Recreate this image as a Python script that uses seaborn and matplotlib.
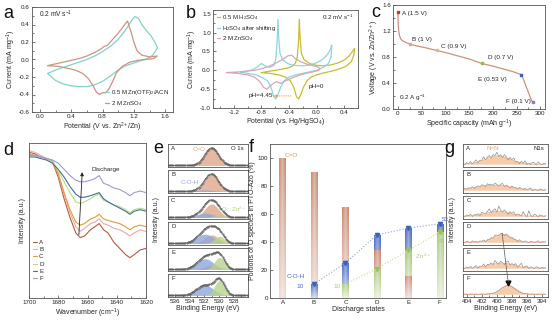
import numpy as np
import matplotlib
matplotlib.use("Agg")
import matplotlib.pyplot as plt
from matplotlib.patches import ConnectionPatch
from matplotlib.colors import to_rgb
from matplotlib.ticker import AutoMinorLocator, FormatStrFormatter
import seaborn as sns

# ---------------- (a) CV, PTO-Azo in two electrolytes: (V vs Zn2+/Zn, mA/mg)
cv_acn = [(0.10, -0.16), (0.20, -0.12), (0.30, -0.09), (0.40, -0.06), (0.50, -0.03),
          (0.60, 0.00), (0.70, 0.04), (0.80, 0.09), (0.90, 0.15), (1.00, 0.23),
          (1.08, 0.32), (1.14, 0.40), (1.19, 0.47), (1.22, 0.49), (1.26, 0.47),
          (1.30, 0.40), (1.36, 0.33), (1.42, 0.27), (1.46, 0.21), (1.49, 0.16),
          (1.50, 0.13), (1.48, 0.10), (1.44, 0.05), (1.40, 0.02), (1.30, -0.01),
          (1.20, -0.04), (1.10, -0.07), (1.00, -0.12), (0.90, -0.19), (0.80, -0.25),
          (0.70, -0.29), (0.60, -0.31), (0.50, -0.31), (0.40, -0.30), (0.30, -0.28),
          (0.20, -0.24), (0.10, -0.16)]
cv_znso4 = [(0.10, -0.07), (0.20, -0.05), (0.30, -0.03), (0.40, -0.01), (0.50, 0.01),
            (0.60, 0.04), (0.70, 0.08), (0.78, 0.12), (0.82, 0.15), (0.86, 0.16),
            (0.92, 0.22), (1.00, 0.30), (1.06, 0.37), (1.10, 0.42), (1.12, 0.44),
            (1.14, 0.38), (1.17, 0.30), (1.20, 0.20), (1.24, 0.10), (1.30, 0.05),
            (1.40, 0.03), (1.50, 0.04), (1.45, 0.01), (1.35, 0.00), (1.25, -0.01),
            (1.15, -0.03), (1.05, -0.08), (0.98, -0.15), (0.93, -0.25), (0.88, -0.34),
            (0.84, -0.38), (0.80, -0.38), (0.76, -0.40), (0.72, -0.37), (0.68, -0.30),
            (0.62, -0.22), (0.55, -0.16), (0.45, -0.12), (0.35, -0.10), (0.25, -0.08),
            (0.10, -0.07)]

# ---------------- (b) CV vs Hg/HgSO4
cv_h2so4 = [(-0.80, -0.06), (-0.70, -0.03), (-0.60, 0.00), (-0.50, 0.03), (-0.42, 0.06),
            (-0.36, 0.10), (-0.31, 0.18), (-0.28, 0.35), (-0.26, 0.80), (-0.25, 1.35),
            (-0.24, 0.90), (-0.22, 0.45), (-0.18, 0.28), (-0.10, 0.18), (0.00, 0.13),
            (0.10, 0.12), (0.20, 0.14), (0.30, 0.19), (0.40, 0.27), (0.47, 0.38),
            (0.52, 0.50), (0.55, 0.58), (0.54, 0.40), (0.50, 0.22), (0.42, 0.10),
            (0.30, 0.02), (0.20, -0.03), (0.10, -0.07), (0.00, -0.12), (-0.08, -0.18),
            (-0.14, -0.28), (-0.19, -0.45), (-0.23, -0.65), (-0.26, -0.76), (-0.29, -0.70),
            (-0.33, -0.45), (-0.38, -0.28), (-0.45, -0.18), (-0.55, -0.12), (-0.68, -0.08),
            (-0.80, -0.06)]
cv_h2so4_shifted = [(-1.10, -0.05), (-1.00, -0.02), (-0.92, 0.02), (-0.85, 0.10), (-0.80, 0.18),
                    (-0.75, 0.12), (-0.68, 0.08), (-0.62, 0.12), (-0.59, 0.30), (-0.57, 0.80),
                    (-0.56, 1.35), (-0.55, 0.90), (-0.53, 0.45), (-0.49, 0.28), (-0.42, 0.18),
                    (-0.33, 0.13), (-0.20, 0.12), (-0.10, 0.14), (0.00, 0.20), (0.08, 0.28),
                    (0.15, 0.40), (0.20, 0.55), (0.22, 0.67), (0.21, 0.35), (0.17, 0.18),
                    (0.10, 0.08), (0.00, 0.00), (-0.10, -0.04), (-0.20, -0.08), (-0.30, -0.12),
                    (-0.40, -0.18), (-0.47, -0.28), (-0.52, -0.45), (-0.56, -0.65), (-0.59, -0.76),
                    (-0.62, -0.70), (-0.66, -0.45), (-0.71, -0.28), (-0.78, -0.20), (-0.88, -0.12),
                    (-1.00, -0.08), (-1.10, -0.05)]
cv_znso4_b = [(-1.30, -0.06), (-1.20, -0.05), (-1.10, -0.04), (-1.00, -0.02), (-0.90, 0.00),
              (-0.80, 0.04), (-0.70, 0.10), (-0.60, 0.18), (-0.50, 0.28), (-0.42, 0.38),
              (-0.36, 0.40), (-0.30, 0.30), (-0.22, 0.22), (-0.12, 0.15), (0.00, 0.10),
              (0.05, 0.05), (0.03, 0.00), (-0.05, -0.04), (-0.15, -0.08), (-0.25, -0.13),
              (-0.35, -0.20), (-0.45, -0.28), (-0.52, -0.35), (-0.58, -0.30), (-0.65, -0.38),
              (-0.72, -0.50), (-0.77, -0.45), (-0.82, -0.30), (-0.90, -0.18), (-1.00, -0.12),
              (-1.15, -0.08), (-1.30, -0.06)]

# ---------------- (c) discharge profile at 0.2 A/g
capacity = [0, 0.5, 1, 2, 4, 7, 12, 18, 25, 40, 60, 82, 100, 125, 150, 177,
            200, 220, 240, 260, 265, 270, 276, 280, 284]
voltage = [1.50, 1.42, 1.32, 1.20, 1.12, 1.07, 1.04, 1.02, 1.00, 0.97, 0.94, 0.90,
           0.87, 0.82, 0.77, 0.70, 0.66, 0.62, 0.58, 0.53, 0.45, 0.35, 0.24, 0.16, 0.10]
states = ["A", "B", "C", "D", "E", "F"]
state_capacity = [0, 25, 82, 177, 260, 284]
state_voltage = [1.5, 1.0, 0.9, 0.7, 0.53, 0.1]

# ---------------- (d) FTIR, C=O region
wavenumber = [1700, 1696, 1692, 1688, 1684, 1680, 1676, 1672, 1668, 1665, 1662, 1658,
              1655, 1652, 1649, 1646, 1642, 1638, 1634, 1631, 1628, 1624, 1620]
ftir_A = [0.94, 0.93, 0.91, 0.90, 0.88, 0.78, 0.64, 0.52, 0.42, 0.39, 0.40, 0.44,
          0.46, 0.48, 0.44, 0.42, 0.36, 0.32, 0.28, 0.26, 0.28, 0.31, 0.32]
ftir_B = [0.95, 0.94, 0.92, 0.90, 0.89, 0.80, 0.67, 0.55, 0.46, 0.43, 0.45, 0.48,
          0.49, 0.51, 0.48, 0.47, 0.45, 0.44, 0.42, 0.40, 0.42, 0.44, 0.43]
ftir_C = [0.93, 0.92, 0.91, 0.90, 0.88, 0.80, 0.68, 0.57, 0.49, 0.47, 0.48, 0.51,
          0.52, 0.54, 0.51, 0.50, 0.49, 0.48, 0.46, 0.44, 0.46, 0.47, 0.46]
ftir_D = [0.92, 0.92, 0.91, 0.90, 0.88, 0.82, 0.75, 0.68, 0.62, 0.61, 0.62, 0.64,
          0.66, 0.67, 0.63, 0.62, 0.60, 0.59, 0.57, 0.55, 0.57, 0.58, 0.57]
ftir_E = [0.91, 0.91, 0.90, 0.89, 0.87, 0.83, 0.78, 0.72, 0.67, 0.65, 0.65, 0.66,
          0.67, 0.68, 0.64, 0.62, 0.60, 0.58, 0.56, 0.54, 0.56, 0.57, 0.56]
ftir_F = [0.92, 0.92, 0.91, 0.90, 0.89, 0.87, 0.83, 0.79, 0.76, 0.75, 0.75, 0.76,
          0.77, 0.79, 0.74, 0.73, 0.71, 0.70, 0.68, 0.66, 0.68, 0.69, 0.68]

# ---------------- (e, f) O species portions (%) per discharge state
pct_co = [100, 90, 65, 34, 16, 0]
pct_coh = [0, 10, 25, 45, 50, 53]
pct_ozn = [0, 0, 10, 21, 34, 47]
o1s_center = [531.0, 531.9, 529.9]   # C=O, C-O-H, O...Zn2+
o1s_sigma = [0.95, 1.15, 0.70]

# ---------------- (g) N1s spectra: fitted N=N peak + measured residual (x0.01)
n1s_center = [399.9, 400.4, 399.9, 399.3, 399.4, 398.5]
n1s_sigma = [1.6, 2.2, 1.5, 1.1, 1.6, 0.95]
n1s_height = [0.36, 0.22, 0.22, 0.34, 0.22, 0.38]
n1s_resid_A = [2, -3, 6, 0, 9, -2, 4, 12, -4, 5, 2, 14, -3, 6, 10, -5, 8, 3, 16, -2, 7, -4, 11,
               5, -6, 9, 2, 13, -3, 4, -5, 8, 1, 12, -4, 3, -2, 9, 5, -3, 10, 2, -2, 4, 1]
n1s_resid_B = [1, 3, -2, 4, 0, 6, -3, 2, 5, -1, 7, 3, -4, 8, 2, 5, -2, 9, 4, -3, 6, 10, -2,
               5, 3, -4, 7, 1, 4, -3, 6, 2, -1, 5, -2, 3, 8, -3, 4, 1, -2, 5, 2, -1, 3]
n1s_resid_C = [2, -2, 5, 1, 8, -3, 4, 2, 6, -4, 9, 3, -2, 7, 15, -3, 5, 11, -4, 22, 6, -2, 9,
               3, -5, 8, 2, 12, -3, 6, 4, -2, 18, 5, -4, 24, 3, -2, 9, 4, -3, 6, 2, -1, 3]
n1s_resid_D = [1, -2, 4, 2, -3, 6, 1, 3, -2, 5, 2, 7, -3, 4, 2, 6, -2, 8, 3, -3, 5, 2, -4,
               6, 3, -2, 5, 1, 4, -3, 7, 2, -2, 5, 1, -3, 4, 2, -1, 3, 6, -2, 3, 1, 2]
n1s_resid_E = [2, -3, 5, 1, 7, -2, 4, 9, -3, 5, 2, 11, -4, 6, 3, 8, -2, 14, 4, -3, 9, 2, -5,
               7, 12, -3, 5, 2, 9, -4, 6, 16, -2, 4, 8, -3, 5, 2, -2, 6, 3, -1, 4, 2, 1]
n1s_resid_F = [1, 0, 1, -1, 1, 0, 0, 1, -1, 0, 1, 0, -1, 1, 0, 1, 0, -1, 1, 0, 0, 1, -1,
               0, 1, 0, 0, -1, 1, 0, 1, 0, -1, 0, 1, 0, 0, 1, -1, 0, 1, 0, 0, 1, 0]

# ---------------- style
sns.set_theme(style="ticks")
plt.rcParams["font.family"] = ["Liberation Sans", "DejaVu Sans"]
plt.rcParams["mathtext.fontset"] = "custom"
plt.rcParams["mathtext.rm"] = "Liberation Sans"
plt.rcParams["mathtext.it"] = "Liberation Sans:italic"
plt.rcParams["mathtext.default"] = "regular"
plt.rcParams["axes.linewidth"] = 0.6

W, H = 554, 324
fig = plt.figure(figsize=(W / 100, H / 100), dpi=100)
TICK = 4.5
LAB = 5.0


def add_ax(l, t, r, b):
    return fig.add_axes([l / W, 1 - b / H, (r - l) / W, (b - t) / H])


def style(ax, minor=True):
    ax.tick_params(which="both", direction="in", labelsize=TICK, pad=1.5,
                   width=0.5, colors="#444444", labelcolor="#222222")
    ax.tick_params(which="major", length=2.2)
    ax.tick_params(which="minor", length=1.2)
    if minor:
        ax.xaxis.set_minor_locator(AutoMinorLocator(2))
        ax.yaxis.set_minor_locator(AutoMinorLocator(2))
    for s in ax.spines.values():
        s.set_linewidth(0.6)
        s.set_color("#555555")


def loop(ax, pts, color, label=None, lw=0.9):
    xs = [p[0] for p in pts]
    ys = [p[1] for p in pts]
    sns.lineplot(x=xs, y=ys, sort=False, estimator=None, color=color,
                 linewidth=lw, ax=ax, label=label)


def panel_letter(x, y, s):
    fig.text(x / W, 1 - y / H, s, fontsize=13, va="baseline", ha="left", color="#111111")


# ---------------- (a)
ax = add_ax(32, 7, 173, 112)
loop(ax, cv_acn, "#7fd3cd", "0.5 M Zn(OTF)$_2$/ACN")
loop(ax, cv_znso4, "#c99585", "2 M ZnSO$_4$")
ax.set_xlim(-0.1, 1.7)
ax.set_ylim(-0.6, 0.6)
ax.set_xticks([0.0, 0.4, 0.8, 1.2, 1.6])
ax.set_yticks(np.arange(-0.6, 0.61, 0.2))
ax.xaxis.set_major_formatter(FormatStrFormatter("%.1f"))
ax.yaxis.set_major_formatter(FormatStrFormatter("%.1f"))
style(ax)
ax.set_xlabel("Potential (V vs. Zn$^{2+}$/Zn)", fontsize=LAB, labelpad=1)
ax.set_ylabel("Current (mA mg$^{-1}$)", fontsize=LAB, labelpad=1)
ax.text(0.05, 0.9, "0.2 mV s$^{-1}$", transform=ax.transAxes, fontsize=4.8)
ax.legend(loc="lower right", frameon=False, fontsize=4.3, handlelength=0.6,
          handletextpad=0.3, labelspacing=0.25, borderaxespad=0.3)
panel_letter(3, 18, "a")

# ---------------- (b)
ax = add_ax(213, 10, 358, 108)
loop(ax, cv_h2so4, "#c5bf2f", "0.5 M H$_2$SO$_4$")
loop(ax, cv_h2so4_shifted, "#8bd6e2", "H$_2$SO$_4$ after shifting")
loop(ax, cv_znso4_b, "#d8a6b3", "2 M ZnSO$_4$")
ax.set_xlim(-1.5, 0.6)
ax.set_ylim(-1.0, 1.6)
ax.set_xticks([-1.2, -0.8, -0.4, 0.0, 0.4])
ax.set_yticks([-1.0, -0.5, 0.0, 0.5, 1.0, 1.5])
ax.xaxis.set_major_formatter(FormatStrFormatter("%.1f"))
ax.yaxis.set_major_formatter(FormatStrFormatter("%.1f"))
style(ax)
ax.set_xlabel("Potential (vs. Hg/HgSO$_4$)", fontsize=LAB, labelpad=1)
ax.set_ylabel("Current (mA mg$^{-1}$)", fontsize=LAB, labelpad=1)
ax.text(0.97, 0.9, "0.2 mV s$^{-1}$", transform=ax.transAxes, fontsize=4.5, ha="right")
ax.text(-0.12, -0.47, "pH=0", fontsize=4.6)
ax.text(-0.98, -0.72, "pH=4.45", fontsize=4.6)
ax.annotate("", xy=(-0.66, -0.68), xytext=(-0.33, -0.68),
            arrowprops=dict(arrowstyle="-|>", color="#e0a040", lw=0.6, ls=":",
                            mutation_scale=4))
ax.legend(loc="upper left", frameon=False, fontsize=4.3, handlelength=0.6,
          handletextpad=0.3, labelspacing=0.2, borderaxespad=0.2)
panel_letter(186, 18, "b")

# ---------------- (c)
ax = add_ax(393, 5, 545, 109)
sns.lineplot(x=capacity, y=voltage, sort=False, estimator=None, color="#c9927e",
             linewidth=0.9, ax=ax)
state_colors = ["#d0332a", "#eba08d", "#efb487", "#8cc43c", "#3c60b4", "#7b7fd6"]
for cap, v, col in zip(state_capacity, state_voltage, state_colors):
    ax.plot(cap, v, marker="s", ms=1.9, color=col, mec=col, zorder=4)
state_text = [(10, 1.43), (31, 1.03), (92, 0.93), (190, 0.76), (169, 0.41), (227, 0.08)]
for s, v, (tx, ty) in zip(states, state_voltage, state_text):
    ax.text(tx, ty, f"{s} ({v:g} V)", fontsize=4.6, va="bottom")
ax.set_xlim(-10, 310)
ax.set_ylim(0, 1.6)
ax.set_xticks([0, 50, 100, 150, 200, 250, 300])
ax.set_yticks([0.0, 0.4, 0.8, 1.2, 1.6])
ax.yaxis.set_major_formatter(FormatStrFormatter("%.1f"))
style(ax)
ax.set_xlabel("Specific capacity (mAh g$^{-1}$)", fontsize=LAB, labelpad=1)
ax.set_ylabel("Voltage (V vs. Zn/Zn$^{2+}$)", fontsize=LAB, labelpad=1)
ax.text(2, 0.14, "0.2 A g$^{-1}$", fontsize=4.6)
panel_letter(371, 17, "c")

# ---------------- (d)
ax = add_ax(29, 143, 146, 298)
ftir_series = [ftir_A, ftir_B, ftir_C, ftir_D, ftir_E, ftir_F]
ftir_colors = ["#b65a3e", "#eba9a9", "#e39b3b", "#b8d98a", "#3f7294", "#9c9ad8"]
for s, ys, col in zip(states, ftir_series, ftir_colors):
    sns.lineplot(x=wavenumber, y=ys, sort=False, estimator=None, color=col,
                 linewidth=0.8, ax=ax, label=s)
ax.set_xlim(1700, 1620)
ax.set_ylim(0, 1.0)
ax.set_xticks([1700, 1680, 1660, 1640, 1620])
ax.set_yticks([])
style(ax)
ax.yaxis.set_minor_locator(plt.NullLocator())
ax.set_xlabel("Wavenumber (cm$^{-1}$)", fontsize=LAB, labelpad=1)
ax.set_ylabel("Intensity (a.u.)", fontsize=LAB, labelpad=2)
ax.annotate("", xy=(1663.5, 0.83), xytext=(1666, 0.39),
            arrowprops=dict(arrowstyle="-|>", color="#222222", lw=0.6, mutation_scale=5))
ax.text(1657, 0.83, "Discharge", fontsize=4.6, va="center")
ax.legend(loc="lower left", bbox_to_anchor=(0.0, 0.08), frameon=False, fontsize=4.5,
          handlelength=0.6, handletextpad=0.3, labelspacing=0.3, borderaxespad=0.3)
panel_letter(3, 155, "d")

# ---------------- (e) O1s XPS stack
sub_tops = [144, 170, 196, 222, 248, 274]
SUB_H = 23
be_o = np.linspace(537, 526, 221)
o1s_colors = ["#dfa68a", "#8ea7da", "#b7d48c"]
e_axes = []
for k, top in enumerate(sub_tops):
    ax = add_ax(168, top, 248, top + SUB_H)
    pcts = [pct_co[k], pct_coh[k], pct_ozn[k]]
    comps = [p / s * np.exp(-0.5 * ((be_o - c) / s) ** 2)
             for p, c, s in zip(pcts, o1s_center, o1s_sigma)]
    env = np.sum(comps, axis=0)
    scale = 0.8 / env.max()
    base = 0.07
    for comp, col in zip(comps, o1s_colors):
        if comp.max() > 0:
            ax.fill_between(be_o, base, base + comp * scale, color=col, alpha=0.8, lw=0)
    sns.lineplot(x=be_o, y=base + env * scale, sort=False, estimator=None,
                 color="#6f6f6f", linewidth=0.5, ax=ax)
    ax.plot(be_o[::3], base + env[::3] * scale, ls="none", marker=".", ms=0.8,
            color="#555555")
    ax.set_xlim(537, 526)
    ax.set_ylim(0, 1.05)
    ax.set_yticks([])
    ax.text(0.04, 0.93, states[k], transform=ax.transAxes, fontsize=4.3, va="top")
    style(ax, minor=False)
    if k < 5:
        ax.set_xticks([])
    else:
        ax.set_xticks([536, 534, 532, 530, 528])
        ax.xaxis.set_minor_locator(AutoMinorLocator(2))
        ax.set_xlabel("Binding Energy (eV)", fontsize=LAB, labelpad=1)
    e_axes.append(ax)
e_axes[0].text(533.6, 0.72, "C=O", fontsize=4.5, color="#d9a58c")
e_axes[0].text(0.95, 0.93, "O 1s", transform=e_axes[0].transAxes, fontsize=4.3,
               va="top", ha="right")
e_axes[1].text(535.2, 0.4, "C-O-H", fontsize=4.5, color="#8ea7da")
e_axes[2].text(529.7, 0.35, "O$^{...}$Zn$^{2+}$", fontsize=4.3, color="#b0d080")
fig.text(157 / W, 1 - 220 / H, "Intensity (a.u.)", rotation=90, fontsize=LAB,
         ha="center", va="center")
panel_letter(153, 153, "e")

# ---------------- (f) O species portions
ax = add_ax(270, 144, 446, 298)
f_colors = ["#c98a70", "#4a6cc0", "#a9c97a"]
BW = 0.2


def bar_shading(color, n=64):
    rgb = np.array(to_rgb(color))
    v = np.linspace(0.3, 1.0, n)[:, None]
    u = np.abs(np.linspace(-1, 1, 9))[None, :]
    mix = v * (0.62 + 0.38 * u)
    return (1 - mix[..., None]) + mix[..., None] * rgb


for i in range(len(states)):
    layers = sorted(zip([pct_co[i], pct_coh[i], pct_ozn[i]], f_colors), key=lambda t: -t[0])
    for k, (val, col) in enumerate(layers):
        if val <= 0:
            continue
        z = 2 + 0.1 * k
        patch = ax.bar(i, val, width=BW, color="none", edgecolor="none", zorder=z)[0]
        im = ax.imshow(bar_shading(col), extent=[i - BW / 2, i + BW / 2, 0, val],
                       origin="lower", aspect="auto", interpolation="bilinear", zorder=z)
        im.set_clip_path(patch)

coh_idx = [i for i, v in enumerate(pct_coh) if v > 0]
ozn_idx = [i for i, v in enumerate(pct_ozn) if v > 0]
sns.lineplot(x=coh_idx, y=[pct_coh[i] for i in coh_idx], sort=False, estimator=None,
             color="#8ea7e0", linewidth=0.8, linestyle=":", ax=ax, zorder=5)
sns.lineplot(x=ozn_idx, y=[pct_ozn[i] for i in ozn_idx], sort=False, estimator=None,
             color="#c4dc94", linewidth=0.8, linestyle=":", ax=ax, zorder=5)
ax.plot(coh_idx, [pct_coh[i] for i in coh_idx], ls="none", marker="v", ms=3,
        color="#3c5fb8", zorder=6)
ax.plot(ozn_idx[1:], [pct_ozn[i] for i in ozn_idx[1:]], ls="none", marker="v", ms=3,
        color="#9cc060", zorder=6)
ax.set_xlim(-0.4, 5.2)
ax.set_ylim(0, 110)
ax.set_xticks(range(len(states)))
ax.set_xticklabels(states)
ax.set_yticks([0, 20, 40, 60, 80, 100])
style(ax, minor=False)
ax.tick_params(axis="x", which="both", length=0)
ax.set_xlabel("Discharge states", fontsize=LAB, labelpad=1)
ax.set_ylabel("Portions of O species in PTO-Azo (%)", fontsize=LAB, labelpad=1)
ax.text(0.05, 101, "C=O", fontsize=4.6, color="#d39b55")
ax.text(0.72, 14, "C-O-H", fontsize=4.6, color="#4a6cc0", ha="right")
ax.text(0.68, 7.5, f"{pct_coh[1]}", fontsize=4.6, color="#4a6cc0", ha="right")
ax.text(1.84, 7.5, f"{pct_ozn[2]}", fontsize=4.6, color="#a9c97a", ha="right")
ax.text(3.9, 28, "O$^{...}$Zn$^{2+}$", fontsize=4.5, color="#a9c97a")
ax.text(5.08, 55, f"{pct_coh[5]}", fontsize=4.4, color="#4a6cc0", clip_on=False)
ax.text(4.95, 39, f"{pct_ozn[5]}", fontsize=4.4, color="#a9c97a", clip_on=False)
panel_letter(249, 152, "f")

# ---------------- (g) N1s XPS stack
be_n = np.linspace(404.5, 393.5, 45)
n1s_resid = [n1s_resid_A, n1s_resid_B, n1s_resid_C, n1s_resid_D, n1s_resid_E, n1s_resid_F]
g_axes = []
g_peak = []
for k, top in enumerate(sub_tops):
    ax = add_ax(463, top, 548, top + SUB_H)
    base = 0.12
    fit = n1s_height[k] * np.exp(-0.5 * ((be_n - n1s_center[k]) / n1s_sigma[k]) ** 2)
    ax.fill_between(be_n, base, base + fit, color="#f5c39c", alpha=0.85, lw=0)
    meas = base + fit + np.array(n1s_resid[k]) / 100
    sns.lineplot(x=be_n, y=meas, sort=False, estimator=None, color="#8e8e8e",
                 linewidth=0.5, ax=ax)
    ax.plot(be_n, base + fit, color="#e3a27a", lw=0.5)
    ax.set_xlim(404.5, 393.2)
    ax.set_ylim(0, 1.0)
    ax.set_yticks([])
    ax.text(0.04, 0.93, states[k], transform=ax.transAxes, fontsize=4.3, va="top")
    style(ax, minor=False)
    if k < 5:
        ax.set_xticks([])
    else:
        ax.set_xticks([404, 402, 400, 398, 396, 394])
        ax.xaxis.set_minor_locator(AutoMinorLocator(2))
        ax.set_xlabel("Binding Energy (eV)", fontsize=LAB, labelpad=1)
    g_axes.append(ax)
    g_peak.append(base + n1s_height[k])
g_axes[0].text(400.6, 0.72, "N=N", fontsize=4.5, color="#eaa275", ha="center")
g_axes[0].text(0.95, 0.93, "N1s", transform=g_axes[0].transAxes, fontsize=4.3,
               va="top", ha="right")
g_axes[5].plot(n1s_center[5], g_peak[5] + 0.1, marker="v", ms=3.5, color="#111111")
con = ConnectionPatch(xyA=(n1s_center[3], g_peak[3] + 0.05), coordsA="data", axesA=g_axes[3],
                      xyB=(n1s_center[5], g_peak[5] + 0.16), coordsB="data", axesB=g_axes[5],
                      color="#555555", lw=0.6, ls=(0, (1, 1)))
fig.add_artist(con)
fig.text(452 / W, 1 - 220 / H, "Intensity (a.u.)", rotation=90, fontsize=LAB,
         ha="center", va="center")
panel_letter(444, 153, "g")

fig.savefig("out.png", dpi=100)
